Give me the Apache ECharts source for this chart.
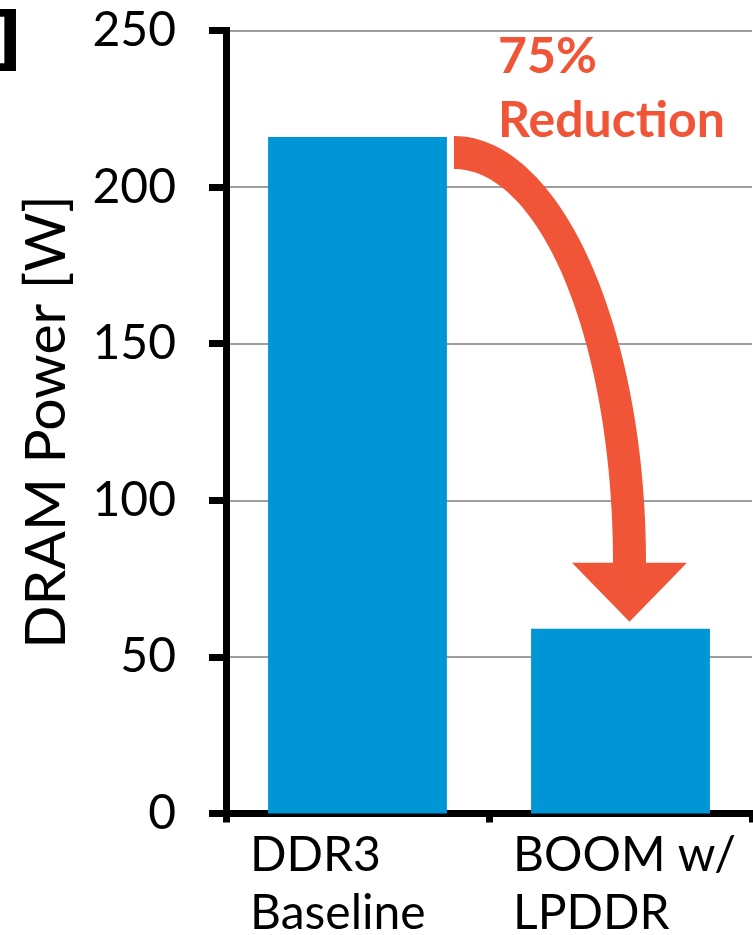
<!DOCTYPE html>
<html>
<head>
<meta charset="utf-8">
<style>
  html, body { margin: 0; padding: 0; background: #ffffff; }
  #chart { width: 753px; height: 935px; }
</style>
<script src="https://cdn.jsdelivr.net/npm/echarts@6/dist/echarts.min.js"></script>
</head>
<body>
<div id="chart"></div>
<script>
// Memory configurations and their DRAM power draw (watts)
const categories = ['DDR3\nBaseline', 'BOOM w/\nLPDDR'];
const powerW = [216, 59];

// Value-axis range and step
const yMin = 0;
const yMax = 250;
const yStep = 50;

// Annotation lines; "Reduction" is drawn in two runs so Lato does not fuse "ti"
const annotationPercent = '75%';
const annotationWordParts = ['Reduc', 'tion'];

const BLUE = '#0096D6';
const ORANGE = '#F05537';
const FONT = 'Lato';

const chart = echarts.init(document.getElementById('chart'), null, { renderer: 'canvas' });

const option = {
  animation: false,
  backgroundColor: '#ffffff',
  grid: {
    left: 226, right: 1, top: 30.5, bottom: 121.5,
    containLabel: false,
    outerBoundsMode: 'none'
  },
  xAxis: {
    type: 'category',
    data: categories,
    boundaryGap: true,
    axisLine: { show: true, lineStyle: { color: '#000', width: 7, cap: 'square' } },
    axisTick: { show: true, length: 9, lineStyle: { color: '#000', width: 7 } },
    axisLabel: {
      margin: 13,
      formatter: function (v) {
        return v.split('\n').map(function (s) { return '{a|' + s + '}'; }).join('\n');
      },
      rich: {
        a: { fontFamily: FONT, fontSize: 48, lineHeight: 58, color: '#000', width: 215, align: 'left' }
      }
    },
    splitLine: { show: false }
  },
  yAxis: {
    type: 'value',
    min: yMin,
    max: yMax,
    interval: yStep,
    name: 'DRAM Power [W]',
    nameLocation: 'middle',
    nameRotate: 90,
    nameGap: 151,
    nameTextStyle: { fontFamily: FONT, fontSize: 57, color: '#000' },
    axisLine: { show: true, lineStyle: { color: '#000', width: 7, cap: 'square' } },
    axisTick: { show: true, length: 17, lineStyle: { color: '#000', width: 7 } },
    axisLabel: { margin: 50, fontFamily: FONT, fontSize: 48, color: '#000' },
    splitLine: { show: true, lineStyle: { color: '#9E9E9E', width: 2 } }
  },
  series: [{
    type: 'bar',
    data: powerW,
    barWidth: '68%',
    itemStyle: { color: BLUE },
    z: 2
  }],
  graphic: []
};

chart.setOption(option);

// Curved "reduction" arrow from the top of the first bar down onto the second bar
function buildArrow() {
  const c0 = chart.convertToPixel({ xAxisIndex: 0 }, 0);
  const c1 = chart.convertToPixel({ xAxisIndex: 0 }, 1);
  const band = c1 - c0;
  const barHalf = band * 0.68 / 2;
  const top0 = chart.convertToPixel({ yAxisIndex: 0 }, powerW[0]);
  const top1 = chart.convertToPixel({ yAxisIndex: 0 }, powerW[1]);

  const thick = 33;
  const headHalf = 57.5;
  const headLen = 59;
  const x0 = c0 + barHalf + 7;          // arrow tail, just right of bar 1
  const yTop = top0 - 1;                // tail's upper edge level with bar 1 top
  const xc = c1 + 9;                    // shaft centre at the head
  const yTip = top1 - 7;                // tip hovers above bar 2
  const yBase = yTip - headLen;
  const rxO = xc - x0 + thick / 2, rxI = xc - x0 - thick / 2;
  const ryO = yBase - yTop, ryI = ryO - thick;

  const pts = [];
  const N = 60;
  for (let i = 0; i <= N; i++) {
    const a = -Math.PI / 2 + (Math.PI / 2) * i / N;
    pts.push([x0 + rxO * Math.cos(a), yBase + ryO * Math.sin(a)]);
  }
  pts.push([xc + headHalf, yBase]);
  pts.push([xc, yTip]);
  pts.push([xc - headHalf, yBase]);
  for (let i = N; i >= 0; i--) {
    const a = -Math.PI / 2 + (Math.PI / 2) * i / N;
    pts.push([x0 + rxI * Math.cos(a), yBase + ryI * Math.sin(a)]);
  }

  const noteStyle = { fontFamily: FONT, fontWeight: 'bold', fontSize: 50, lineHeight: 64, fill: ORANGE };

  chart.setOption({
    graphic: [
      {
        type: 'polygon',
        shape: { points: pts },
        style: { fill: ORANGE },
        z: 10
      },
      {
        type: 'text',
        left: 498,
        top: 32,
        style: {
          text: '{n|' + annotationPercent + '}\n' +
                annotationWordParts.map(function (p) { return '{n|' + p + '}'; }).join(''),
          rich: { n: noteStyle },
          textAlign: 'left'
        },
        z: 10
      },
      {
        type: 'text',
        x: 22,
        y: 44,
        style: {
          text: ']',
          fontFamily: 'DejaVu Sans',
          fontWeight: 'bold',
          fontSize: 70,
          fill: '#000',
          textAlign: 'right',
          textVerticalAlign: 'middle'
        },
        z: 10
      }
    ]
  });
}

buildArrow();
</script>
</body>
</html>
